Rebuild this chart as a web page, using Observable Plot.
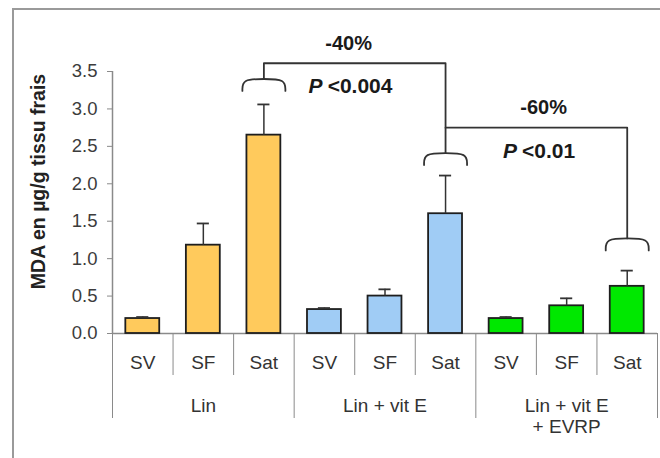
<!DOCTYPE html>
<html>
<head>
<meta charset="utf-8">
<script src="https://cdn.jsdelivr.net/npm/d3@7"></script>
<script src="https://cdn.jsdelivr.net/npm/@observablehq/plot@0.6"></script>
<style>
  html, body { margin: 0; padding: 0; background: #fff; }
  #wrap { position: relative; width: 660px; height: 458px; overflow: hidden; }
  #chart { position: absolute; left: 0; top: 0; z-index: 1; }
  #frame { position: absolute; left: 12px; top: 8px; width: 700px; height: 500px; z-index: 2;
           pointer-events: none; box-sizing: border-box;
           border-top: 2px solid #9a9a9a; border-left: 2px solid #9a9a9a; }
</style>
</head>
<body>
<div id="wrap"><div id="chart"></div><div id="frame"></div></div>
<script>
// Diet groups and fat types
const groups = ["Lin", "Lin + vit E", "Lin + vit E\n+ EVRP"];
const categories = ["SV", "SF", "Sat"];

// MDA (µg/g fresh tissue): mean and upper error per group
const linMean = [0.20, 1.18, 2.65];
const linErr = [0.02, 0.29, 0.41];
const vitEMean = [0.32, 0.50, 1.60];
const vitEErr = [0.02, 0.09, 0.51];
const evrpMean = [0.20, 0.37, 0.63];
const evrpErr = [0.02, 0.10, 0.21];

const groupColors = ["#FFCA5C", "#A0CCF5", "#00E800"];
const yTicks = [0, 0.5, 1.0, 1.5, 2.0, 2.5, 3.0, 3.5];

// Pairwise comparisons (Sat vs Sat)
const changeLabels = ["-40%", "-60%"];
const pLabels = ["<0.004", "<0.01"];

const means = [linMean, vitEMean, evrpMean];
const errs = [linErr, vitEErr, evrpErr];
const rows = groups.flatMap((g, gi) => categories.map((c, ci) => ({
  group: gi, cat: c, slot: gi * 3 + ci, mean: means[gi][ci], err: errs[gi][ci]
})));
const center = (d) => d.slot + 0.5;
const satRows = rows.filter(d => d.cat === "Sat");

// Brace geometry (x in slot units, y in data units)
const hw = 0.355, depth = 0.16;
const braceTops = [3.40, 2.41, 1.27];
const braces = satRows.flatMap((d, i) => {
  const c = center(d), t = braceTops[i];
  return [
    [c - hw, t - depth], [c - hw, t], [c, t], [c + hw, t], [c + hw, t - depth]
  ].map(([x, y]) => ({x, y, id: i}));
});
const level1 = 3.61, level2 = 2.75;
const c0 = center(satRows[0]), c1 = center(satRows[1]), c2 = center(satRows[2]);
const connectors = [
  ...[[c0, braceTops[0]], [c0, level1], [c1, level1], [c1, braceTops[1]]].map(([x, y]) => ({x, y, id: 0})),
  ...[[c1, level2], [c2, level2], [c2, braceTops[2]]].map(([x, y]) => ({x, y, id: 1}))
];

const font = "'Liberation Sans', Arial, sans-serif";
const chart = Plot.plot({
  width: 660, height: 458,
  marginLeft: 112, marginRight: 3, marginTop: 71, marginBottom: 125,
  style: {fontFamily: font, background: "transparent", overflow: "visible"},
  x: {type: "linear", domain: [0, 9], axis: null},
  y: {domain: [0, 3.5], axis: null},
  marks: [
    // y axis
    Plot.ruleX([0], {y1: 0, y2: 3.5, stroke: "#8a8a8a", strokeWidth: 1.5}),
    Plot.axisY({ticks: yTicks, tickSize: 5, tickFormat: () => "", color: "#8a8a8a", label: null}),
    Plot.axisY({ticks: yTicks, tickSize: 0, tickPadding: 15, tickFormat: d => d.toFixed(1),
                color: "#3c3c3c", fontSize: 18.5, label: null}),
    Plot.text(["MDA en µg/g tissu frais"], {frameAnchor: "left", textAnchor: "middle", dx: -74, dy: -21,
                rotate: -90, fontWeight: "bold", fontSize: 19.5, fill: "#222"}),
    // category dividers
    Plot.axisX({ticks: [1, 2, 4, 5, 7, 8], tickSize: 42, tickFormat: () => "", color: "#8a8a8a", label: null}),
    Plot.axisX({ticks: [0, 3, 6, 9], tickSize: 85, tickFormat: () => "", color: "#8a8a8a", label: null}),
    Plot.ruleY([0], {x1: 0, x2: 9, stroke: "#8a8a8a", strokeWidth: 1.5}),
    // bars
    Plot.rectY(rows, {x1: d => d.slot + 0.22, x2: d => d.slot + 0.78, y1: 0, y2: "mean",
                      fill: d => groupColors[d.group], stroke: "#1e1e1e", strokeWidth: 1.8}),
    // error bars
    Plot.ruleX(rows, {x: center, y1: "mean", y2: d => d.mean + d.err, stroke: "#333", strokeWidth: 1.5}),
    Plot.ruleY(rows, {y: d => d.mean + d.err, x1: d => center(d) - 0.1, x2: d => center(d) + 0.1,
                      stroke: "#333", strokeWidth: 1.8}),
    // labels
    Plot.text(rows, {x: center, text: "cat", frameAnchor: "bottom", dy: 22, lineAnchor: "top",
                     fontSize: 19, fill: "#333"}),
    Plot.text(groups, {x: (d, i) => i * 3 + 1.5, text: d => d, frameAnchor: "bottom", dy: 63,
                       lineAnchor: "top", lineHeight: 1.12, fontSize: 19, fill: "#333"}),
    // comparison brackets
    Plot.line(braces, {x: "x", y: "y", z: "id", curve: "basis", stroke: "#333", strokeWidth: 1.8}),
    Plot.line(connectors, {x: "x", y: "y", z: "id", stroke: "#333", strokeWidth: 1.8}),
    Plot.text(changeLabels, {x: [3.9, 7.12], y: [3.87, 3.02], text: d => d,
                             fontWeight: "bold", fontSize: 20, fill: "#1a1a1a"}),
    Plot.text(pLabels, {x: [3.47, 6.68], y: [3.30, 2.44], text: () => "P", textAnchor: "end",
                        fontWeight: "bold", fontStyle: "italic", fontSize: 21, fill: "#1a1a1a"}),
    Plot.text(pLabels, {x: [3.47, 6.68], y: [3.30, 2.44], text: d => d, textAnchor: "start", dx: 5,
                        fontWeight: "bold", fontSize: 21, fill: "#1a1a1a"})
  ]
});
document.getElementById("chart").appendChild(chart);
</script>
</body>
</html>
